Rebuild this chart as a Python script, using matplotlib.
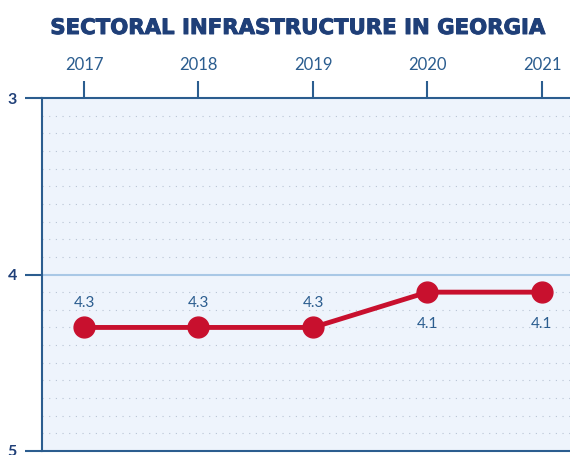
import matplotlib
matplotlib.use("Agg")
import matplotlib.pyplot as plt
import matplotlib.patheffects as pe
import numpy as np

years = [2017, 2018, 2019, 2020, 2021]
values = [4.3, 4.3, 4.3, 4.1, 4.1]
labels = ["4.3", "4.3", "4.3", "4.1", "4.1"]
yticks = [3, 4, 5]
title = "SECTORAL INFRASTRUCTURE IN GEORGIA"

navy = "#1f3f78"
tickblue = "#2b5d8f"
red = "#c8102e"

fig = plt.figure(figsize=(5.7, 4.55), dpi=100)
ax = fig.add_axes([42/570, 4/455, 1 - 42/570, 353/455])
ax.set_facecolor("#eef4fc")

ax.set_xlim(2016.633, 2021.245)
ax.set_ylim(5, 3)

# dotted minor grid
for v in np.arange(3.1, 5.0, 0.1):
    if abs(v - 4) < 1e-6:
        continue
    ax.axhline(v, color="#b8c4d4", lw=0.8, ls=(0, (1, 5)), zorder=1)
ax.axhline(4, color="#a9c8e6", lw=1.5, zorder=1)

ax.plot(years, values, color=red, lw=3.5, marker="o", ms=15, zorder=3,
        solid_capstyle="round")

for x, v, l in zip(years, values, labels):
    if v >= 4.2:
        ax.text(x, v - 0.14, l, ha="center", va="center", color=tickblue,
                fontsize=11, family="Lato", zorder=4)
    else:
        ax.text(x, v + 0.18, l, ha="center", va="center", color=tickblue,
                fontsize=11, family="Lato", zorder=4)

ax.xaxis.tick_top()
ax.set_xticks(years)
ax.set_xticklabels([str(y) for y in years], family="Lato", fontsize=12, color=tickblue)
ax.tick_params(axis="x", direction="out", length=12, width=1.5, color=tickblue, pad=6)
ax.set_yticks(yticks)
ax.set_yticklabels([str(t) for t in yticks], family="Lato", fontsize=11.5,
                   fontweight="bold", color=navy)
ax.tick_params(axis="y", direction="out", length=12, width=1.5, color=tickblue, pad=6)

for s in ["top", "bottom", "left"]:
    ax.spines[s].set_color(tickblue)
    ax.spines[s].set_linewidth(1.5)
ax.spines["right"].set_visible(False)

fig.text(0.523, 1 - 28/455, title, ha="center", va="center", color=navy,
         fontsize=15.3, fontweight="bold", family="DejaVu Sans",
         path_effects=[pe.withStroke(linewidth=0.7, foreground=navy)])

fig.savefig("out.png", dpi=100)
